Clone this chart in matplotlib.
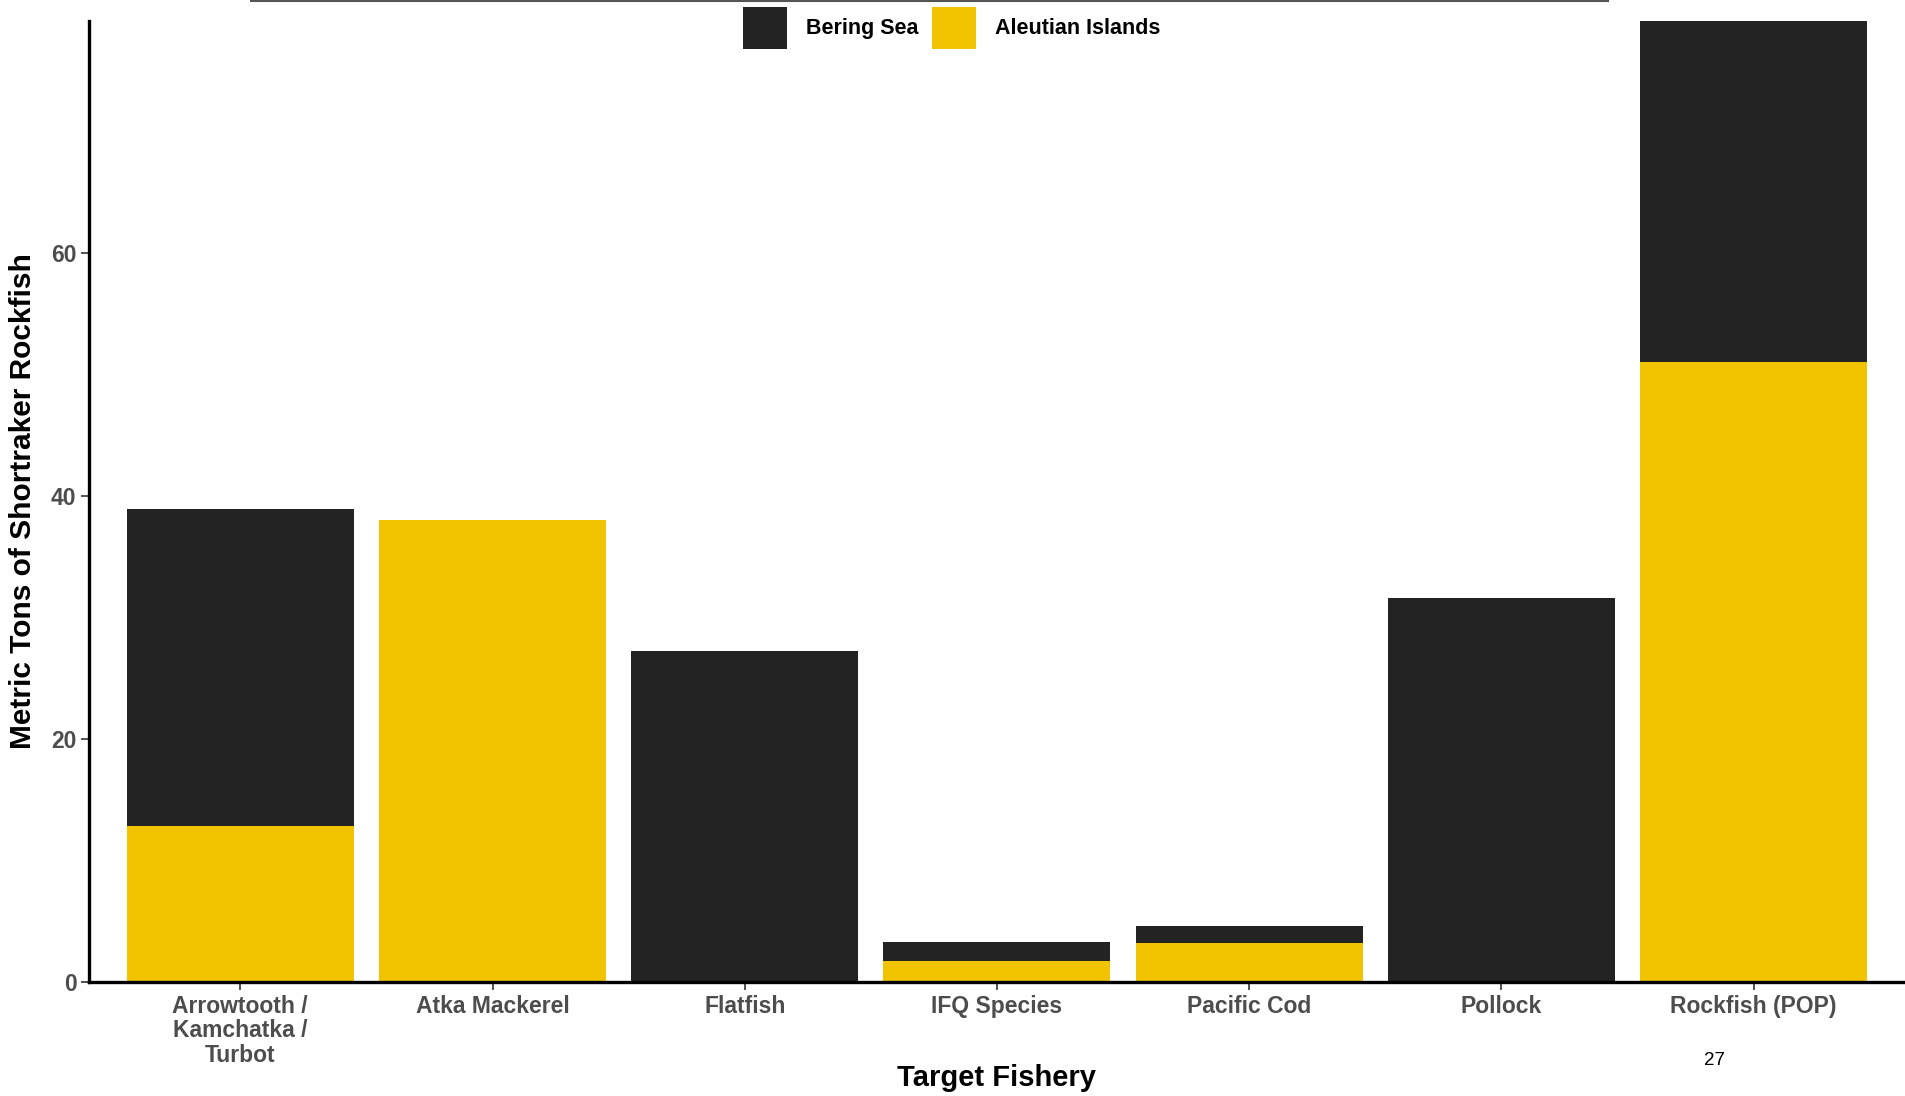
"""Stacked bars of shortraker rockfish catch by target fishery and region."""

import matplotlib.pyplot as plt
from matplotlib.lines import Line2D

plt.rcParams["font.family"] = ["Liberation Sans", "DejaVu Sans"]

fisheries = [
    "Arrowtooth /\nKamchatka /\nTurbot",
    "Atka Mackerel",
    "Flatfish",
    "IFQ Species",
    "Pacific Cod",
    "Pollock",
    "Rockfish (POP)",
]
aleutian = [12.8, 38.0, 0.0, 1.7, 3.2, 0.0, 51.0]
bering = [26.1, 0.0, 27.2, 1.6, 1.4, 31.6, 28.1]
yticks = [0, 20, 40, 60]

BLACK = "#232323"
YELLOW = "#F2C300"
TICK_GREY = "#4D4D4D"

fig = plt.figure(figsize=(19.05, 10.96), dpi=100)
ax = fig.add_axes([0.0467, 0.104, 0.9533, 0.877])

x = list(range(1, len(fisheries) + 1))
ai = ax.bar(x, aleutian, width=0.9, color=YELLOW, label="Aleutian Islands")
bs = ax.bar(x, bering, width=0.9, bottom=aleutian, color=BLACK, label="Bering Sea")

totals = [a + b for a, b in zip(aleutian, bering)]
ax.set_xlim(0.4, len(fisheries) + 0.6)
ax.set_ylim(0, max(totals))

ax.set_xticks(x)
ax.set_xticklabels(fisheries, fontsize=16.5, fontweight="bold", color=TICK_GREY,
                   linespacing=1.1)
ax.set_yticks(yticks)
ax.set_yticklabels([str(v) for v in yticks], fontsize=16.5, fontweight="bold",
                   color=TICK_GREY)
ax.tick_params(axis="both", length=6, width=1.2, color="#333333", pad=3)

for side in ("top", "right"):
    ax.spines[side].set_visible(False)
for side in ("left", "bottom"):
    ax.spines[side].set_linewidth(2.4)
    ax.spines[side].set_color("black")

ax.set_xlabel("Target Fishery", fontsize=21, fontweight="bold")
ax.xaxis.set_label_coords(0.5, -0.1)
ax.xaxis.label.set_va("center")
ax.set_ylabel("Metric Tons of Shortraker Rockfish", fontsize=21.5, fontweight="bold",
              labelpad=10)

fig.legend(handles=[bs, ai], labels=["Bering Sea", "Aleutian Islands"],
           loc="center", bbox_to_anchor=(0.4995, 0.9745), ncol=2, frameon=False,
           prop={"size": 15.5, "weight": "bold"}, handlelength=2.05, handleheight=2.65,
           handletextpad=0.9, columnspacing=0.6, borderpad=0.2)

# thin grey rule along the top edge, left over from the slide
fig.add_artist(Line2D([0.132, 0.844], [0.9995, 0.9995], color="#555555", lw=1.5,
                      transform=fig.transFigure))
fig.text(0.9, 0.0325, "27", fontsize=13.5, ha="center", va="center")

fig.savefig("out.png", dpi=100)
